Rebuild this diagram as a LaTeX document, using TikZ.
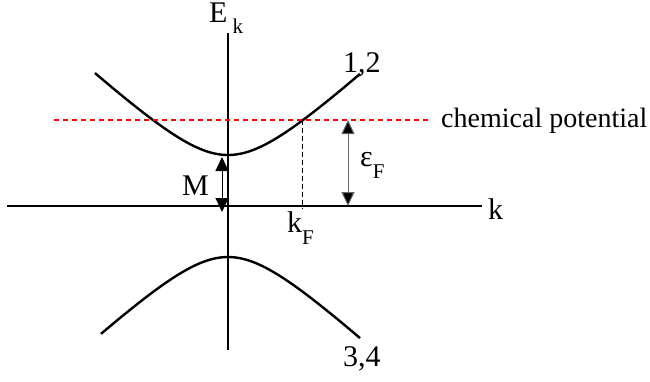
\documentclass[tikz,border=0pt]{standalone}
\usepackage{fontspec}
\setmainfont{Liberation Serif}
\usetikzlibrary{arrows.meta}
\newcommand{\lowsub}[2][-12pt]{\raisebox{#1}{\fontsize{21}{21}\selectfont #2}}

\begin{document}
\begin{tikzpicture}[x=1pt, y=-1pt, font=\fontsize{30}{34}\selectfont,
    gaptip/.tip={Triangle[length=14pt,width=13pt,fill=black]},
    axis/.style={line width=1.2pt},
    band/.style={line width=2.4pt, line join=round},
    gap/.style={gaptip-gaptip, line width=1pt},
    lbl/.style={anchor=base west, inner sep=0pt}]
    \useasboundingbox (0,0) rectangle (650,381);

    % Axes
    \coordinate (kleft) at (7,206);
    \coordinate (kright) at (482,206);
    \coordinate (etop) at (228,33);
    \coordinate (ebottom) at (228,350);
    \draw[axis] (kleft) -- (kright);
    \draw[axis] (etop) -- (ebottom);
    \node[lbl] (klab) at (488,219) {k};
    \node[lbl] (elab) at (209,22) {E\,\lowsub[-11pt]{k}};

    % Bands 1,2 and 3,4 (hyperbolas around k = 0)
    \draw[band] plot[domain=-133:132, samples=80]
        ({228+\x}, {206-10*sqrt(26.01+(0.0923*\x)^2)});
    \draw[band] plot[domain=-127:132, samples=80]
        ({228+\x}, {206+10*sqrt(26.01+(0.0923*\x)^2)});
    \node[lbl] (upper) at (343,72) {1,2};
    \node[lbl] (lower) at (343,366) {3,4};

    % Chemical potential
    \node[lbl, font=\fontsize{28}{32}\selectfont] (chem) at (441,127) {chemical potential};
    \coordinate (mustart) at (54,120);
    \draw[red, line width=1.8pt, dash pattern=on 5pt off 4pt]
        (mustart) -- ([xshift=-9pt]mustart -| chem.west);

    % Fermi momentum
    \coordinate (kftop) at (302,120);
    \coordinate (kfbottom) at (302,209);
    \draw[dashed, line width=0.9pt, dash pattern=on 5pt off 3pt] (kftop) -- (kfbottom);
    \node[lbl] (kf) at (287,232) {k\lowsub{F}};

    % Gaps M and epsilon_F
    \coordinate (mtop) at (222,157);
    \coordinate (mbottom) at (222,212);
    \draw[gap] (mtop) -- (mbottom);
    \node[lbl] (mlab) at (182,195) {M};
    \coordinate (eftop) at (348,120);
    \coordinate (efbottom) at (348,206);
    \draw[gap, draw=gray!80!black] (eftop) -- (efbottom);
    \node[lbl] (eflab) at (360,166) {ε\lowsub{F}};
\end{tikzpicture}
\end{document}
